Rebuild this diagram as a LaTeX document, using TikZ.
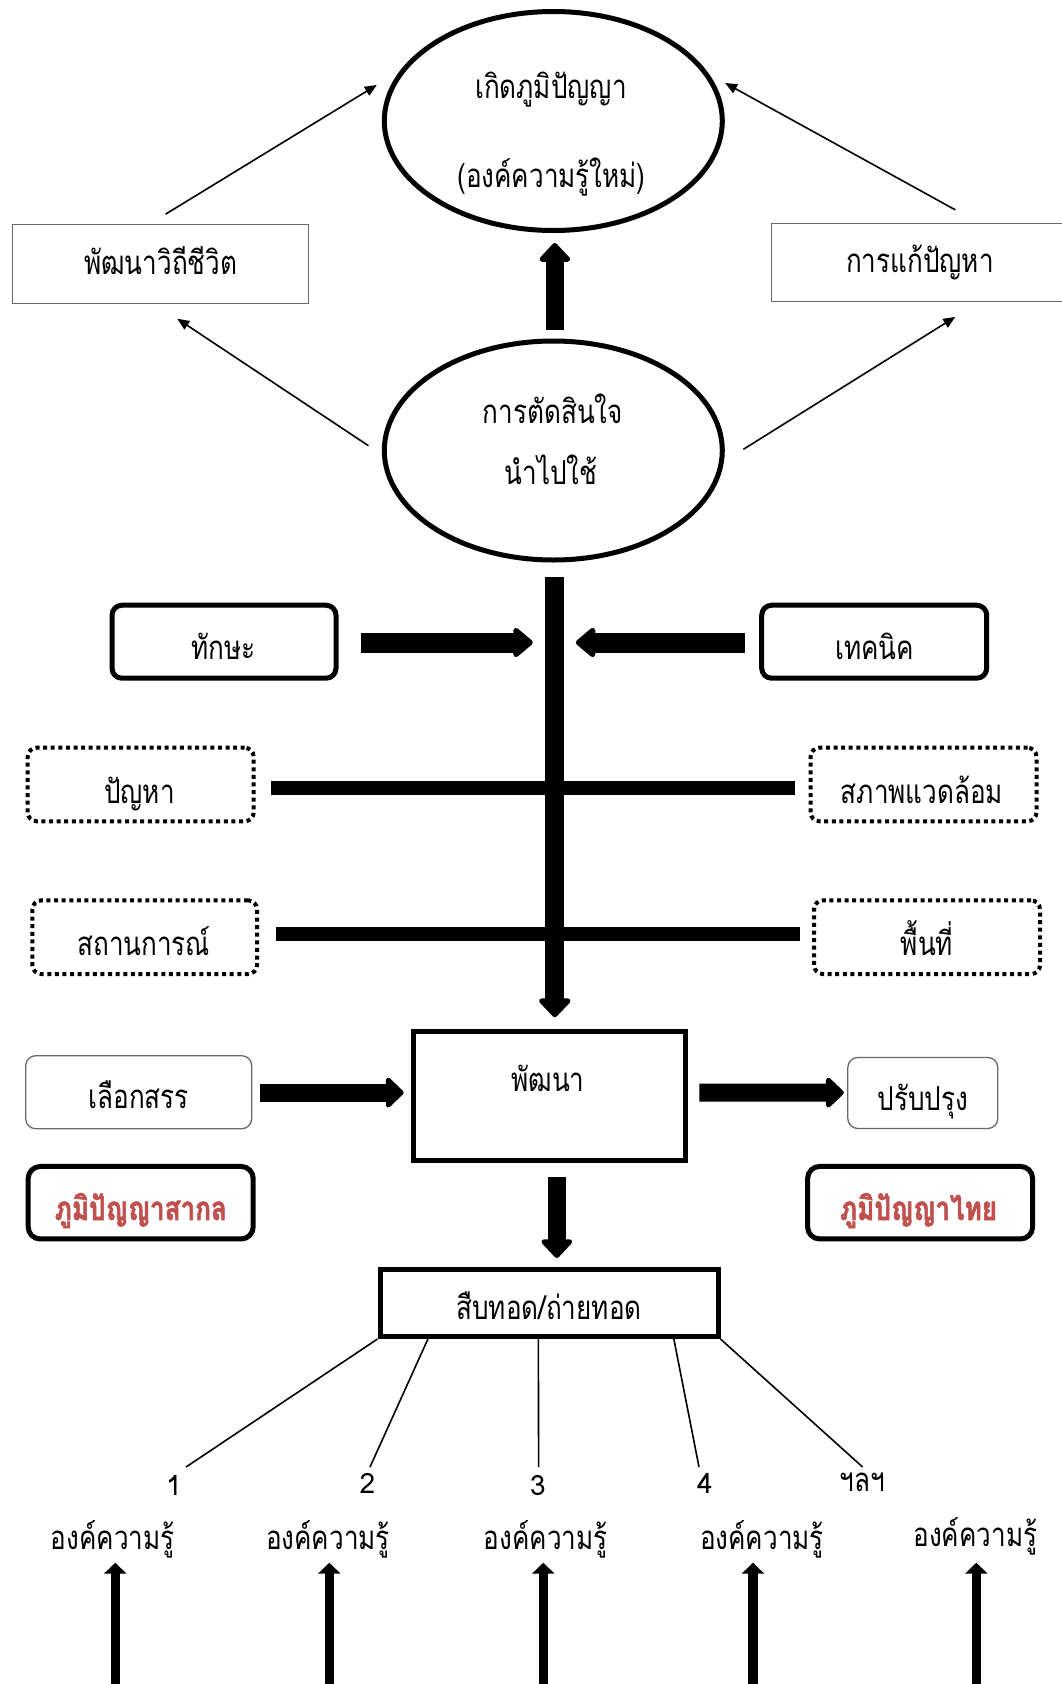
\documentclass[tikz,border=0pt]{standalone}
\usepackage{fontspec}
\setmainfont{Loma}[Script=Thai]
\newfontfamily\thaitall{Loma}[Script=Thai,FakeStretch=0.79]
\newfontfamily\thaiheavy{Loma}[Script=Thai,FakeStretch=0.79,FakeBold=1.6]
\usetikzlibrary{arrows.meta,shapes.geometric,calc}
\definecolor{wisdomred}{RGB}{192,80,77}
\definecolor{thinframe}{RGB}{105,105,105}

\begin{document}
\begin{tikzpicture}[x=1pt,y=-1pt,
  txt/.style={font=\thaitall\fontsize{33}{35}\selectfont, inner sep=0pt, anchor=base},
  numtxt/.style={font=\fontsize{28}{30}\selectfont, inner sep=0pt, anchor=base},
  redtxt/.style={txt, font=\thaiheavy\fontsize{33}{35}\selectfont\bfseries, text=wisdomred},
  bubble/.style={ellipse, draw, line width=5pt, minimum width=338pt, minimum height=219pt, inner sep=0pt},
  plainbox/.style={rectangle, draw=thinframe, line width=1.3pt, inner sep=0pt},
  softbox/.style={rectangle, draw=thinframe, line width=1.3pt, rounded corners=10pt, inner sep=0pt},
  heavybox/.style={rectangle, draw, line width=5pt, rounded corners=10pt, inner sep=0pt},
  framebox/.style={rectangle, draw, line width=5pt, inner sep=0pt},
  dotbox/.style={rectangle, draw, line width=4pt, dash pattern=on 4pt off 3.6pt, rounded corners=9pt, inner sep=0pt},
  thinarrow/.style={line width=1.6pt, -{Triangle[length=12pt,width=10pt]}},
  fatarrow/.style={line width=18pt, -{Triangle[length=20pt,width=36pt,round]}},
  bar/.style={line width=14pt},
  riser/.style={line width=9.5pt, -{Triangle[length=11pt,width=22pt]}},
  fan/.style={line width=1.6pt}
]
\useasboundingbox (0,0) rectangle (1061,1684);

% ---------- upper cycle ----------
\node[bubble] (wis) at (553.3,121) {};
\node[txt] (wis-a) at (551,98) {เกิดภูมิปัญญา};
\node[txt] (wis-b) at (551.5,187) {(องค์ความรู้ใหม่)};

\node[bubble] (dec) at (553.3,450.5) {};
\node[txt] (dec-a) at (553,423) {การตัดสินใจ};
\node[txt] (dec-b) at (551,484) {นำไปใช้};

\node[plainbox, minimum width=296pt, minimum height=79pt] (vidhi) at (160.6,264.3) {};
\node[txt] (vidhi-t) at (160.7,274) {พัฒนาวิถีชีวิต};

\node[plainbox, minimum width=308pt, minimum height=78pt] (kae) at (925.8,262.2) {};
\node[txt] (kae-t) at (920,272) {การแก้ปัญหา};

\draw[thinarrow] ($(vidhi.north)+(5,-10)$) -- ($(wis.west)+(-5,-36)$);
\draw[thinarrow] ($(kae.north)+(29.5,-12.7)$) -- ($(wis.east)+(0.3,-38)$);
\draw[thinarrow] ($(dec.west)+(-13.4,-4.8)$) -- ($(vidhi.south)+(16.7,14.3)$);
\draw[thinarrow] ($(dec.east)+(18.6,-1.2)$) -- ($(kae.south)+(29.5,15.1)$);

\draw[fatarrow] ($(dec.north)+(1.5,-9)$) -- ($(wis.south)+(1.5,10)$);

% ---------- factors along the spine ----------
\node[heavybox, minimum width=224pt, minimum height=73pt] (skill) at (224,641.7) {};
\node[txt] (skill-t) at (223.3,659) {ทักษะ};
\node[heavybox, minimum width=225pt, minimum height=73pt] (tech) at (874.2,641.7) {};
\node[txt] (tech-t) at (874.5,659) {เทคนิค};

\node[dotbox, minimum width=226pt, minimum height=73.6pt] (prob) at (140.7,784.5) {};
\node[txt] (prob-t) at (139.4,803) {ปัญหา};
\node[dotbox, minimum width=226pt, minimum height=73.6pt] (env) at (923.5,784.5) {};
\node[txt] (env-t) at (922,803) {สภาพแวดล้อม};

\node[dotbox, minimum width=224.7pt, minimum height=73.7pt] (situ) at (144.7,937.2) {};
\node[txt] (situ-t) at (143.8,955) {สถานการณ์};
\node[dotbox, minimum width=226pt, minimum height=73.7pt] (area) at (927,937.2) {};
\node[txt] (area-t) at (927,955) {พื้นที่};

% ---------- development stage ----------
\node[framebox, minimum width=272.4pt, minimum height=129pt] (dev) at (549.4,1096.2) {};
\node[txt] (dev-t) at (548,1091) {พัฒนา};

\node[softbox, minimum width=226pt, minimum height=73pt] (select) at (138.7,1092.2) {};
\node[txt] (select-t) at (138.7,1108) {เลือกสรร};
\node[softbox, minimum width=150pt, minimum height=71pt] (improve) at (922.8,1093) {};
\node[txt] (improve-t) at (922.7,1110) {ปรับปรุง};

\node[heavybox, rounded corners=12pt, minimum width=225pt, minimum height=72.5pt] (intl) at (140.7,1202.7) {};
\node[redtxt] (intl-t) at (140.8,1220) {ภูมิปัญญาสากล};
\node[heavybox, rounded corners=12pt, minimum width=225pt, minimum height=72.5pt] (thai) at (920.1,1202.7) {};
\node[redtxt] (thai-t) at (918.5,1220) {ภูมิปัญญาไทย};

% main spine from the decision down to development
\coordinate (spine-top) at ($(dec.south)+(1.5,14)$);
\coordinate (spine-end) at ($(dec.south |- dev.north)+(1.5,-12)$);
\draw[bar] ($(prob.east)+(15,3.5)$) -- ($(env.west)+(-13.5,3.5)$);
\draw[bar] ($(situ.east)+(17,-3)$) -- ($(area.west)+(-12,-3)$);
\draw[fatarrow, line width=19pt, -{Triangle[length=20pt,width=37pt,round]}] (spine-top) -- (spine-end);

\draw[fatarrow, line width=20pt, -{Triangle[length=21pt,width=34pt,round]}] ($(skill.east)+(22,0.8)$) -- ($(spine-top |- skill.east)+(-22,0.8)$);
\draw[fatarrow, line width=20pt, -{Triangle[length=21pt,width=34pt,round]}] ($(tech.west)+(-14,0.8)$) -- ($(spine-top |- tech.west)+(21,0.8)$);

\draw[fatarrow, -{Triangle[length=19pt,width=35pt,round]}] ($(select.east)+(8,0.4)$) -- ($(dev.west)+(-7,-3.6)$);
\draw[fatarrow, -{Triangle[length=19pt,width=35pt,round]}] ($(dev.east)+(11.3,-3.6)$) -- ($(improve.west)+(-3.3,-0.4)$);

% ---------- handing down ----------
\node[framebox, minimum width=338pt, minimum height=67pt] (pass) at (549,1303) {};
\node[txt] (pass-t) at (549,1319) {สืบทอด/ถ่ายทอด};

\draw[fatarrow] ($(spine-top |- dev.south)+(2,14)$) -- ($(spine-top |- pass.north)+(2,-9)$);

\node[numtxt] (n1) at (174,1495) {1};
\node[numtxt] (n2) at (367.4,1493) {2};
\node[numtxt] (n3) at (538,1495) {3};
\node[numtxt] (n4) at (705,1493) {4};
\node[txt] (n5) at (862.6,1491) {ฯลฯ};

\coordinate (f1) at (186,1467);
\coordinate (f2) at (370,1467);
\coordinate (f3) at (538.6,1467);
\coordinate (f4) at (699,1467);
\coordinate (f5) at (862.6,1467);
\draw[fan] (pass.south west) -- (f1);
\draw[fan] ($(pass.south west)!0.147!(pass.south east)$) -- (f2);
\draw[fan] ($(pass.south west)!0.469!(pass.south east)$) -- (f3);
\draw[fan] ($(pass.south west)!0.864!(pass.south east)$) -- (f4);
\draw[fan] (pass.south east) -- (f5);

\node[txt] (k1) at (112.6,1549) {องค์ความรู้};
\node[txt] (k2) at (328,1549) {องค์ความรู้};
\node[txt] (k3) at (545.7,1549) {องค์ความรู้};
\node[txt] (k4) at (762,1549) {องค์ความรู้};
\node[txt] (k5) at (975.3,1546) {องค์ความรู้};

\foreach \i/\x in {1/115.3, 2/329.3, 3/543.3, 4/753, 5/976.3} {
  \coordinate (r\i-base) at (\x,1692);
  \coordinate (r\i-tip) at (\x,1562.7);
  \draw[riser] (r\i-base) -- (r\i-tip);
}
\end{tikzpicture}
\end{document}
